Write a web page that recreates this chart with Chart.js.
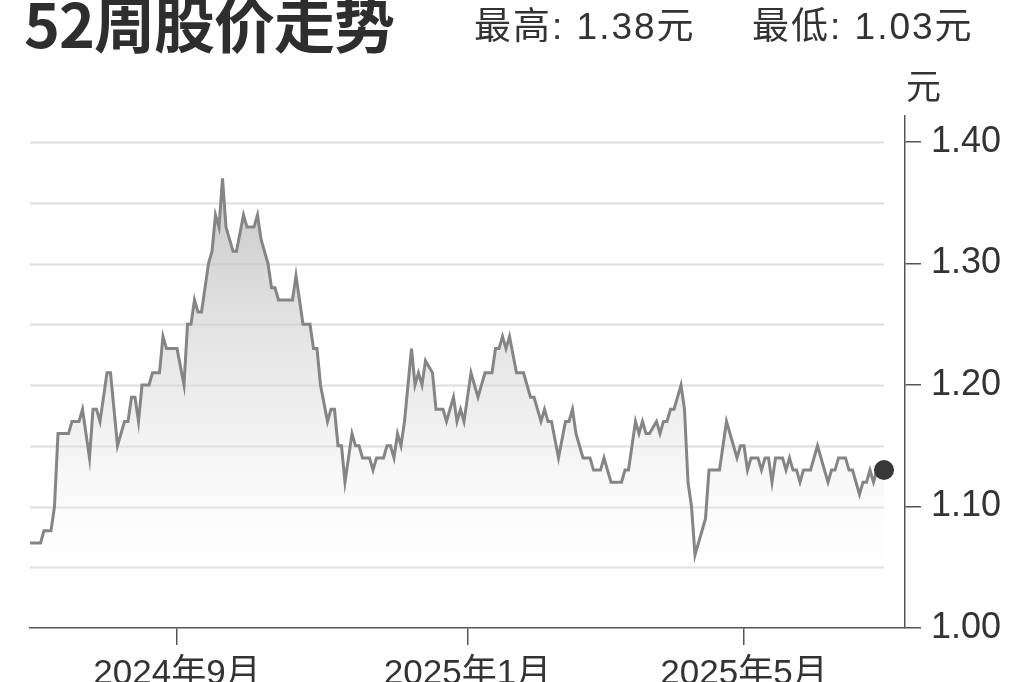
<!DOCTYPE html>
<html>
<head>
<meta charset="utf-8">
<script src="https://cdn.jsdelivr.net/npm/chart.js@4.4.1/dist/chart.umd.min.js"></script>
<style>
  html, body { margin: 0; padding: 0; background: #fff; overflow: hidden; }
  #wrap { position: relative; width: 1024px; height: 682px; overflow: hidden; }
  canvas { position: absolute; left: 0; top: 0; }
  .txt { position: absolute; white-space: nowrap; color: #333; line-height: 1; }
  #title { left: 24px; top: -23px; font: bold 61px "Noto Sans CJK SC", sans-serif; color: #2e2e2e; letter-spacing: -1px; }
  .stat { top: -4px; font: 37px "Liberation Sans", "Noto Sans CJK SC", sans-serif; letter-spacing: 2px; }
  #unit { left: 906px; top: 58px; font: 35px "Noto Sans CJK SC", sans-serif; }
</style>
</head>
<body>
<div id="wrap">
  <canvas id="chart" width="1024" height="740"></canvas>
  <div id="title" class="txt">52周股价走势</div>
  <div class="txt stat" style="left:474px">最高: 1.38元</div>
  <div class="txt stat" style="left:752px">最低: 1.03元</div>
  <div id="unit" class="txt">元</div>
</div>
<script>
// trading day index (from start of the 52-week window) and close price, 元
const days = [0, 3, 4, 6, 7, 8, 11, 12, 14, 15, 17, 18, 19, 20, 22, 23, 25, 27, 28, 29,
  30, 31, 32, 34, 35, 37, 38, 39, 42, 44, 45, 46, 47, 48, 49, 51, 52, 53, 54, 55,
  56, 57, 58, 59, 61, 62, 64, 65, 66, 68, 69, 70, 71, 75, 76, 77, 78, 80, 81, 82,
  83, 85, 86, 87, 88, 89, 90, 91, 92, 93, 94, 95, 97, 98, 99, 101, 102, 103, 104, 105,
  106, 107, 109, 110, 111, 112, 113, 115, 116, 118, 119, 121, 122, 123, 124, 126, 128, 130, 132, 133,
  134, 135, 136, 137, 139, 141, 143, 144, 146, 147, 148, 149, 151, 153, 154, 155, 156, 158, 160, 161,
  163, 164, 165, 166, 169, 170, 171, 172, 173, 174, 175, 176, 177, 179, 180, 181, 182, 183, 184, 186,
  187, 188, 189, 190, 191, 193, 194, 197, 198, 199, 200, 202, 203, 204, 205, 206, 208, 209, 210, 211,
  212, 213, 215, 216, 217, 218, 219, 220, 221, 223, 225, 226, 227, 228, 229, 230, 231, 233, 234, 235,
  237, 238, 239, 240, 241, 242, 244];
const prices = [1.07, 1.07, 1.08, 1.08, 1.10, 1.16, 1.16, 1.17, 1.17, 1.18, 1.14, 1.18, 1.18, 1.17, 1.21, 1.21, 1.15, 1.17, 1.17, 1.19,
  1.19, 1.17, 1.20, 1.20, 1.21, 1.21, 1.24, 1.23, 1.23, 1.20, 1.25, 1.25, 1.27, 1.26, 1.26, 1.30, 1.31, 1.34, 1.33, 1.37,
  1.33, 1.32, 1.31, 1.31, 1.34, 1.33, 1.33, 1.34, 1.32, 1.30, 1.28, 1.28, 1.27, 1.27, 1.29, 1.27, 1.25, 1.25, 1.23, 1.23,
  1.20, 1.17, 1.18, 1.18, 1.15, 1.15, 1.12, 1.14, 1.16, 1.15, 1.15, 1.14, 1.14, 1.13, 1.14, 1.14, 1.15, 1.15, 1.14, 1.16,
  1.15, 1.17, 1.23, 1.20, 1.21, 1.20, 1.22, 1.21, 1.18, 1.18, 1.17, 1.19, 1.17, 1.18, 1.17, 1.21, 1.19, 1.21, 1.21, 1.23,
  1.23, 1.24, 1.23, 1.24, 1.21, 1.21, 1.19, 1.19, 1.17, 1.18, 1.17, 1.17, 1.14, 1.17, 1.17, 1.18, 1.16, 1.14, 1.14, 1.13,
  1.13, 1.14, 1.13, 1.12, 1.12, 1.13, 1.13, 1.15, 1.17, 1.16, 1.17, 1.16, 1.16, 1.17, 1.16, 1.17, 1.17, 1.18, 1.18, 1.20,
  1.18, 1.12, 1.10, 1.06, 1.07, 1.09, 1.13, 1.13, 1.15, 1.17, 1.16, 1.14, 1.15, 1.15, 1.13, 1.14, 1.14, 1.13, 1.14, 1.14,
  1.12, 1.14, 1.14, 1.13, 1.14, 1.13, 1.13, 1.12, 1.13, 1.13, 1.15, 1.14, 1.13, 1.12, 1.13, 1.13, 1.14, 1.14, 1.13, 1.13,
  1.11, 1.12, 1.12, 1.13, 1.12, 1.13, 1.13];

const xTickDays = [42, 125, 204];
const xTickLabels = ['2024年9月', '2025年1月', '2025年5月'];
const yTicks = [1.00, 1.10, 1.20, 1.30, 1.40];
const gridValues = [1.05, 1.10, 1.15, 1.20, 1.25, 1.30, 1.35, 1.40];

const FONT = "'Liberation Sans', 'Noto Sans CJK SC', sans-serif";
const lastIndex = prices.length - 1;

// light horizontal guides, stopping where the line ends
const guideLines = {
  id: 'guideLines',
  beforeDatasetsDraw(chart) {
    const { ctx, chartArea, scales } = chart;
    const xEnd = scales.x.getPixelForValue(days[lastIndex]);
    ctx.save();
    ctx.strokeStyle = '#dedede';
    ctx.lineWidth = 2;
    gridValues.forEach(v => {
      const y = Math.round(scales.y.getPixelForValue(v)) + 0.5;
      ctx.beginPath();
      ctx.moveTo(chartArea.left, y);
      ctx.lineTo(xEnd, y);
      ctx.stroke();
    });
    ctx.restore();
  }
};

function areaFill(context) {
  const { ctx, chartArea, scales } = context.chart;
  if (!chartArea) return 'rgba(0,0,0,0)';
  const g = ctx.createLinearGradient(0, scales.y.getPixelForValue(1.37), 0, scales.y.getPixelForValue(1.02));
  g.addColorStop(0, 'rgba(185,185,185,0.8)');
  g.addColorStop(0.55, 'rgba(222,222,222,0.5)');
  g.addColorStop(1, 'rgba(255,255,255,0)');
  return g;
}

new Chart(document.getElementById('chart'), {
  type: 'line',
  data: {
    datasets: [{
      data: days.map((d, i) => ({ x: d, y: prices[i] })),
      borderColor: '#858585',
      borderWidth: 3,
      tension: 0,
      fill: 'start',
      backgroundColor: areaFill,
      pointRadius: ctx => ctx.dataIndex === lastIndex ? 10 : 0,
      pointBackgroundColor: '#383838',
      pointBorderWidth: 0,
      pointHoverRadius: 0
    }]
  },
  options: {
    responsive: false,
    animation: false,
    devicePixelRatio: 1,
    layout: { padding: { left: 30, top: 116, right: 0, bottom: 0 } },
    plugins: { legend: { display: false }, tooltip: { enabled: false } },
    scales: {
      x: {
        type: 'linear',
        min: 0,
        max: 250,
        afterFit: s => { s.height = 112; },
        afterBuildTicks: s => { s.ticks = xTickDays.map(v => ({ value: v })); },
        grid: { display: true, drawOnChartArea: false, drawTicks: true, tickLength: 17, color: '#555', lineWidth: 1.5 },
        border: { display: true, color: '#555', width: 1.5 },
        ticks: {
          autoSkip: false,
          maxRotation: 0,
          padding: 8,
          color: '#333',
          font: { family: FONT, size: 35 },
          callback: v => xTickLabels[xTickDays.indexOf(v)]
        }
      },
      y: {
        position: 'right',
        min: 1.0,
        max: 1.4214,
        afterFit: s => { s.width = 119; },
        afterBuildTicks: s => { s.ticks = yTicks.map(v => ({ value: v })); },
        grid: { display: true, drawOnChartArea: false, drawTicks: true, tickLength: 16, color: '#555', lineWidth: 1.5 },
        border: { display: true, color: '#555', width: 1.5 },
        ticks: {
          padding: 10,
          color: '#333',
          font: { family: FONT, size: 36 },
          callback: v => v.toFixed(2)
        }
      }
    }
  },
  plugins: [guideLines]
});
</script>
</body>
</html>
